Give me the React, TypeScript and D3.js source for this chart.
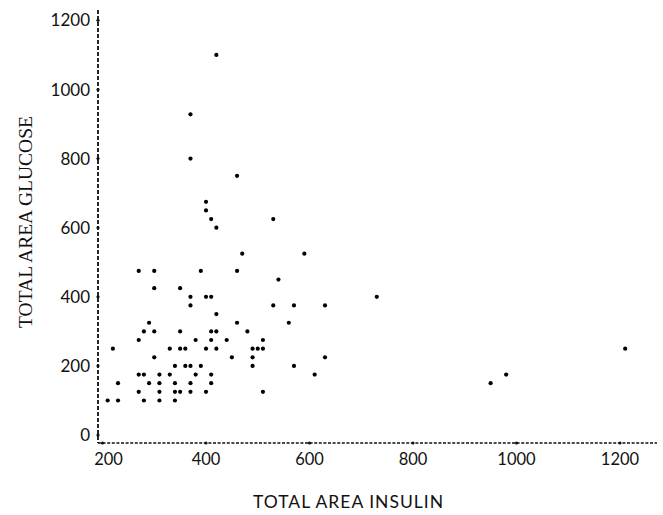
import React from 'react';
import * as d3 from 'd3';

// total area insulin (x) and total area glucose (y), one entry per subject
const insulin = [
  270, 300, 300, 290, 280, 300, 270, 220, 330, 300, 340, 270, 280, 310, 330, 230, 290, 310, 340, 270, 310, 340, 210, 230, 280, 310, 340,
  390, 460, 540, 350, 370, 400, 410, 730, 370, 530, 570, 630, 420, 460, 560, 350, 410, 420, 480, 380, 410, 440, 510, 350, 360, 400, 420,
  490, 500, 510, 450, 490, 630, 360, 370, 390, 490, 570, 380, 410, 610, 370, 410, 350, 370, 400, 510,
  420, 370, 370, 460, 400, 400, 410, 420, 530, 470, 590,
  980, 950, 1210,
];
const glucose = [
  475, 475, 425, 325, 300, 300, 275, 250, 250, 225, 200, 175, 175, 175, 175, 150, 150, 150, 150, 125, 125, 125, 100, 100, 100, 100, 100,
  475, 475, 450, 425, 400, 400, 400, 400, 375, 375, 375, 375, 350, 325, 325, 300, 300, 300, 300, 275, 275, 275, 275, 250, 250, 250, 250,
  250, 250, 250, 225, 225, 225, 200, 200, 200, 200, 200, 175, 175, 175, 150, 150, 125, 125, 125, 125,
  1100, 928, 800, 750, 675, 650, 625, 600, 625, 525, 525,
  175, 150, 250,
];

const xTicks = [200, 400, 600, 800, 1000, 1200];
const yTicks = [0, 200, 400, 600, 800, 1000, 1200];

const W = 663;
const H = 515;

export default function App() {
  const x = d3.scaleLinear().domain([191.3, 1271.5]).range([98, 657]);
  const y = d3.scaleLinear().domain([-23, 1230]).range([443, 10]);
  const [x0, x1] = x.range();
  const [yBottom, yTop] = y.range();

  const tickFont = 'Lato, "Open Sans", sans-serif';

  return (
    <svg
      width={W}
      height={H}
      style={{ position: 'absolute', left: 0, top: 0, background: '#fff' }}
    >
      {/* y axis */}
      <line x1={x0} x2={x0} y1={yTop} y2={yBottom} stroke="#111" strokeWidth={1.8} strokeDasharray="4,2" />
      {/* x axis */}
      <line x1={x0} x2={x1} y1={yBottom} y2={yBottom} stroke="#111" strokeWidth={1.6} strokeDasharray="3,1.6" />

      {yTicks.map((t) => (
        <g key={'y' + t}>
          <circle cx={x0} cy={y(t)} r={1.6} fill="#111" />
          <text
            x={x0 - 8}
            y={y(t)}
            dy="0.36em"
            textAnchor="end"
            fontFamily={tickFont}
            fontSize={17}
            fill="#111"
          >
            {t}
          </text>
        </g>
      ))}

      {xTicks.map((t, i) => (
        <g key={'x' + t}>
          <circle cx={x(t)} cy={yBottom} r={1.6} fill="#111" />
          <text
            x={x(t)}
            dx={i === 0 ? 6 : 0}
            y={yBottom + 22}
            textAnchor="middle"
            fontFamily={tickFont}
            fontSize={16.5}
            fill="#111"
          >
            {t}
          </text>
        </g>
      ))}

      {insulin.map((v, i) => (
        <circle key={'p' + i} cx={x(v)} cy={y(glucose[i])} r={2.1} fill="#000" />
      ))}

      <text
        transform={`translate(32, 222) rotate(-90)`}
        textAnchor="middle"
        fontFamily='"Liberation Serif", "DejaVu Serif", serif'
        fontSize={19.5}
        fill="#111"
      >
        TOTAL AREA GLUCOSE
      </text>

      <text
        x={348}
        y={508}
        textAnchor="middle"
        fontFamily={tickFont}
        fontSize={17.5}
        textLength={190}
        lengthAdjust="spacing"
        fill="#111"
      >
        TOTAL AREA INSULIN
      </text>
    </svg>
  );
}
